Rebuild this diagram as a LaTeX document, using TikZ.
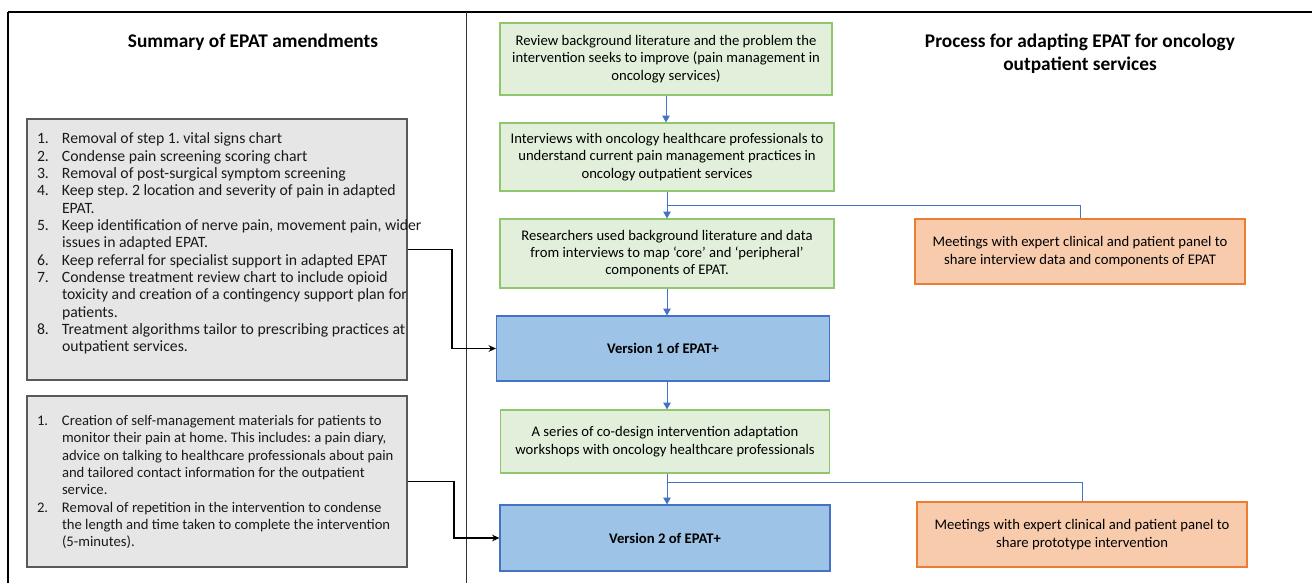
\documentclass[tikz,border=0pt]{standalone}
\usepackage{fontspec}
\setmainfont{Carlito}
\usetikzlibrary{arrows.meta}
\frenchspacing
\definecolor{greenfill}{HTML}{E2EFDA}
\definecolor{greenline}{HTML}{8FC66E}
\definecolor{bluefill}{HTML}{9DC3E6}
\definecolor{bluebord}{HTML}{4472C4}
\definecolor{orangefill}{HTML}{F8CBAD}
\definecolor{orangeline}{HTML}{ED7D31}
\definecolor{greyfill}{HTML}{E6E6E6}
\definecolor{greyline}{HTML}{595959}
\definecolor{arrowblue}{HTML}{4472C4}
\definecolor{listtext}{HTML}{1A1A1A}
\newcommand{\itemrow}[2]{\makebox[18.75pt][l]{#1}&#2\\}
\begin{document}
\begin{tikzpicture}[x=0.75pt,y=-0.75pt,
  procbox/.style={rectangle,inner sep=0pt,align=center,
    font=\fontsize{11}{13}\selectfont},
  greenbox/.style={procbox,draw=greenline,fill=greenfill,line width=0.9pt},
  bluebox/.style={procbox,draw=bluebord,fill=bluefill,line width=0.9pt,
    font=\bfseries\fontsize{11}{13}\selectfont},
  orangebox/.style={procbox,draw=orangeline,fill=orangefill,line width=0.9pt},
  greybox/.style={rectangle,draw=greyline,fill=greyfill,line width=0.9pt,
    inner xsep=7.5pt,inner ysep=0pt,text=listtext},
  flow/.style={draw=arrowblue,line width=0.75pt,-{Triangle[length=5pt,width=5.5pt]}},
  flowline/.style={draw=arrowblue,line width=0.75pt},
  feed/.style={draw=black,line width=1.1pt,-{Stealth[length=5.5pt,width=5pt]}},
  frame/.style={draw=black},
  heading/.style={font=\bfseries\fontsize{14.5}{17.5}\selectfont,align=center}
]
\useasboundingbox (0,0) rectangle (1312,583);
% frame
\draw[frame,line width=1.5pt] (8,12) -- (1312,12);
\draw[frame,line width=1pt] (8,12) -- (8,583);
\draw[frame,line width=0.6pt,draw=black!80] (466,12) -- (466,583);

% titles
\node[heading] (ltitle) at (253,42) {Summary of EPAT amendments};
\node[heading] (rtitle) at (1080,54)
  {Process for adapting EPAT for oncology\\outpatient services};

% grey boxes
\node[greybox,font=\fontsize{11.8}{13}\selectfont] (s1) at (217,249.5) {%
  \begin{minipage}[c][195.75pt][t]{270pt}\vspace{9.5pt}%
  \begin{tabular}[t]{@{}l@{}l@{}}
  \itemrow{1.}{Removal of step 1. vital signs chart}
  \itemrow{2.}{Condense pain screening scoring chart}
  \itemrow{3.}{Removal of post-surgical symptom screening}
  \itemrow{4.}{Keep step. 2 location and severity of pain in adapted}
  \itemrow{}{EPAT.}
  \itemrow{5.}{Keep identification of nerve pain, movement pain, wider}
  \itemrow{}{issues in adapted EPAT.}
  \itemrow{6.}{Keep referral for specialist support in adapted EPAT}
  \itemrow{7.}{Condense treatment review chart to include opioid}
  \itemrow{}{toxicity and creation of a contingency support plan for}
  \itemrow{}{patients.}
  \itemrow{8.}{Treatment algorithms tailor to prescribing practices at}
  \itemrow{}{outpatient services.}
  \end{tabular}\end{minipage}};
\node[greybox,font=\fontsize{11}{13}\selectfont] (s2) at (217,481.5) {%
  \begin{minipage}[c][128.25pt][c]{270pt}\vspace{2pt}%
  \begin{tabular}[t]{@{}l@{}l@{}}
  \itemrow{1.}{Creation of self-management materials for patients to}
  \itemrow{}{monitor their pain at home. This includes: a pain diary,}
  \itemrow{}{advice on talking to healthcare professionals about pain}
  \itemrow{}{and tailored contact information for the outpatient}
  \itemrow{}{service.}
  \itemrow{2.}{Removal of repetition in the intervention to condense}
  \itemrow{}{the length and time taken to complete the intervention}
  \itemrow{}{(5-minutes).}
  \end{tabular}\end{minipage}};

% process boxes
\node[greenbox,minimum width=249pt,minimum height=54pt] (g1) at (666,59)
  {Review background literature and the problem the\\intervention seeks to improve (pain management in\\oncology services)};
\node[greenbox,minimum width=250.5pt,minimum height=51pt] (g2) at (667,157)
  {Interviews with oncology healthcare professionals to\\understand current pain management practices in\\oncology outpatient services};
\node[greenbox,minimum width=250.5pt,minimum height=51.75pt] (g3) at (667,253.5)
  {Researchers used background literature and data\\from interviews to map ‘core’ and ‘peripheral’\\components of EPAT.};
\node[bluebox,minimum width=249.75pt,minimum height=48.75pt] (v1) at (663,348.5)
  {Version 1 of EPAT+};
\node[greenbox,minimum width=246.75pt,minimum height=47.25pt] (g4) at (665,441.5)
  {A series of co-design intervention adaptation\\workshops with oncology healthcare professionals};
\node[bluebox,minimum width=247.5pt,minimum height=49.5pt] (v2) at (665,538)
  {Version 2 of EPAT+};
\node[orangebox,minimum width=247.5pt,minimum height=48.75pt] (o1) at (1080,251.5)
  {Meetings with expert clinical and patient panel to\\share interview data and components of EPAT};
\node[orangebox,minimum width=247.5pt,minimum height=48.75pt] (o2) at (1082,534.5)
  {Meetings with expert clinical and patient panel to\\share prototype intervention};

% flow arrows
\draw[flow] (g1.south) -- (g1.south |- g2.north);
\draw[flow] (g2.south) -- (g2.south |- g3.north);
\draw[flow] (g3.south) -- (g3.south |- v1.north);
\draw[flow] (v1.south -| g3.south) -- (g3.south |- g4.north);
\draw[flow] (g4.south -| g3.south) -- (g3.south |- v2.north);
\coordinate (b1) at (667,205);
\coordinate (b2) at (667,482);
\draw[flowline] (b1) -| (o1.north);
\draw[flowline] (b2) -| (o2.north);

% feed arrows
\draw[feed] (s1.east) -- (452,249.5) |- (v1.west);
\draw[feed] (s2.east) -- (454,481.5) |- (v2.west);
\end{tikzpicture}
\end{document}
